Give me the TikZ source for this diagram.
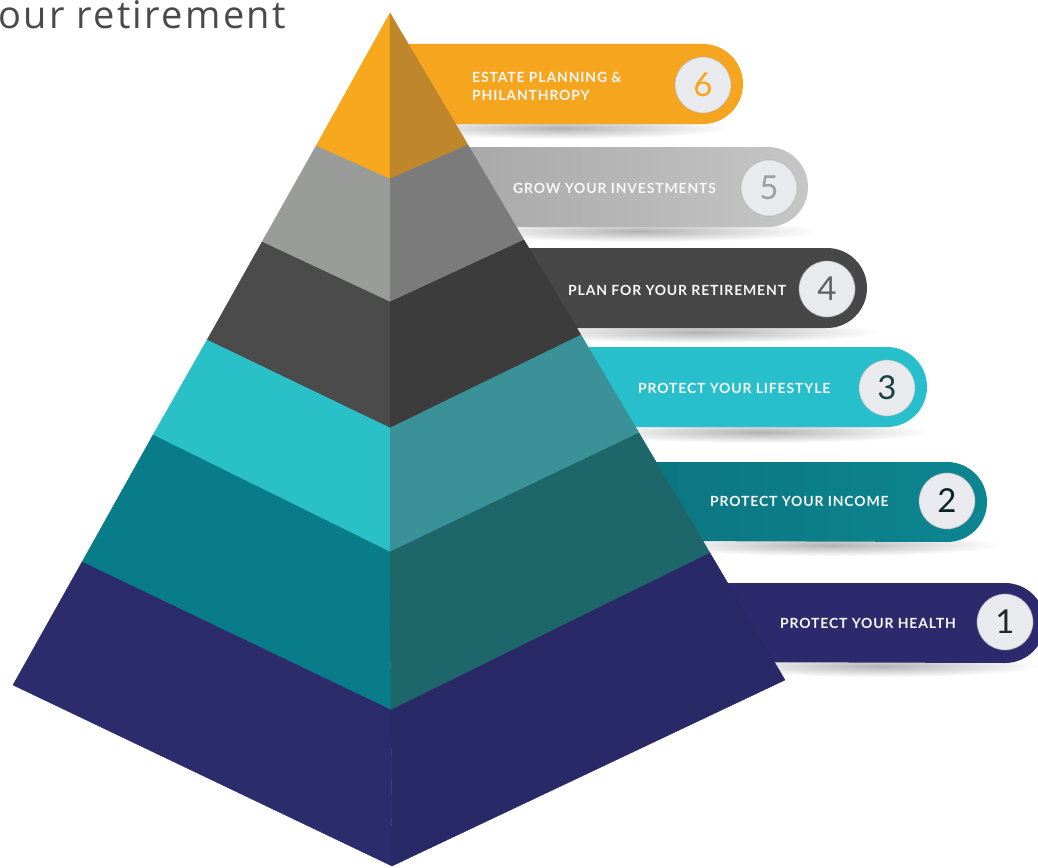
\documentclass[tikz,border=0pt]{standalone}
\usepackage{fontspec}
\setmainfont{Lato}
\newfontfamily\headfont[LetterSpace=6]{Open Sans}
\newfontfamily\labelfont[LetterSpace=6]{Lato}
\usetikzlibrary{fadings}

% face colours of the pyramid (left face / right face)
\definecolor{orL}{HTML}{F8A81C}\definecolor{orR}{HTML}{C0862C}
\definecolor{grL}{HTML}{9A9C9A}\definecolor{grR}{HTML}{7B7B7B}
\definecolor{dkL}{HTML}{4B4B4B}\definecolor{dkR}{HTML}{3C3C3C}
\definecolor{cyL}{HTML}{2AC0C8}\definecolor{cyR}{HTML}{3A9197}
\definecolor{tlL}{HTML}{087C88}\definecolor{tlR}{HTML}{1D666A}
\definecolor{puL}{HTML}{2C2B6C}\definecolor{puR}{HTML}{2A2968}
% banner colours
\definecolor{bOr}{HTML}{F6A51E}
\definecolor{bGrA}{HTML}{A2A2A2}\definecolor{bGrB}{HTML}{C6C6C6}
\definecolor{bDk}{HTML}{474747}
\definecolor{bCy}{HTML}{27BFCB}
\definecolor{bTlA}{HTML}{0B6A75}\definecolor{bTlB}{HTML}{0C8691}
\definecolor{bPu}{HTML}{2C2A6C}
\definecolor{disc}{HTML}{E9EAEE}
\definecolor{headgray}{HTML}{4A4A4A}

\tikzfading[name=softshadow, inner color=transparent!40, outer color=transparent!100]

\tikzset{
  face/.style={fill=#1, draw=#1, line width=0.4pt, line join=round},
  shadowblob/.style={fill=black, path fading=softshadow, opacity=0.5},
  bannertext/.style={anchor=west, text=white!94!gray, inner sep=0pt,
    font=\labelfont\bfseries\fontsize{14}{18}\selectfont, align=left},
  numdisc/.style={circle, fill=disc, draw=black!35, draw opacity=0.35,
    line width=1.2pt, minimum size=56pt, inner sep=0pt,
    font=\fontsize{33}{33}\selectfont},
}

% banner: left x, top, bottom, right end (rounded end of radius 40)
\newcommand\bannerpath[4]{(#1,#2) -- ({#4-40},#2)
  arc[start angle=90, end angle=-90, radius=40pt] -- (#1,#3) -- cycle}

\begin{document}
\begin{tikzpicture}[x=1pt,y=-1pt]
\useasboundingbox (0,0) rectangle (1038,867);
\clip (0,0) rectangle (1038,867);

% heading fragment
\node[anchor=base east, inner sep=0pt, text=headgray,
  font=\headfont\fontsize{38}{38}\selectfont] (head) at (286,29) {our retirement};

% soft shadows below the banners
\fill[shadowblob] (560,128) ellipse[x radius=170pt, y radius=11pt];
\fill[shadowblob] (640,231) ellipse[x radius=180pt, y radius=11pt];
\fill[shadowblob] (700,332) ellipse[x radius=180pt, y radius=11pt];
\fill[shadowblob] (760,432) ellipse[x radius=170pt, y radius=11pt];
\fill[shadowblob] (830,545) ellipse[x radius=170pt, y radius=11pt];
\fill[shadowblob] (880,666) ellipse[x radius=160pt, y radius=11pt];

% banners
\fill[bOr] \bannerpath{390}{44}{124}{743};
\shade[left color=bGrA, right color=bGrB] \bannerpath{390}{147}{227}{808};
\fill[bDk] \bannerpath{390}{248}{328}{867};
\fill[bCy] \bannerpath{390}{347}{427}{927};
\shade[left color=bTlA, right color=bTlB] \bannerpath{390}{462}{540}{987};
\fill[bPu] \bannerpath{390}{583}{661}{1045};

% number discs
\node[numdisc, text=orL!90!orange] (n6) at (703,85) {6};
\node[numdisc, text=black!38] (n5) at (769,188) {5};
\node[numdisc, text=black!62] (n4) at (827,289) {4};
\node[numdisc, text=cyR!45!black] (n3) at (887,388) {3};
\node[numdisc, text=tlR!35!black] (n2) at (947,501) {2};
\node[numdisc, text=black!85] (n1) at (1005,622) {1};

% pyramid outline points
\coordinate (A)  at (390,13);
\coordinate (L1) at (316,146); \coordinate (L2) at (262,242);
\coordinate (L3) at (207,340); \coordinate (L4) at (153,435);
\coordinate (L5) at (82,562);  \coordinate (L6) at (13,685);
\coordinate (C1) at (390,179); \coordinate (C2) at (390,302);
\coordinate (C3) at (390,428); \coordinate (C4) at (390,552);
\coordinate (C5) at (391,710); \coordinate (C6) at (392,866);
\coordinate (R1) at (468,145); \coordinate (R2) at (524,240);
\coordinate (R3) at (581,335); \coordinate (R4) at (639,433);
\coordinate (R5) at (710,553); \coordinate (R6) at (785,680);

% left faces
\path[face=orL] (A) -- (L1) -- (C1) -- cycle;
\path[face=grL] (L1) -- (L2) -- (C2) -- (C1) -- cycle;
\path[face=dkL] (L2) -- (L3) -- (C3) -- (C2) -- cycle;
\path[face=cyL] (L3) -- (L4) -- (C4) -- (C3) -- cycle;
\path[face=tlL] (L4) -- (L5) -- (C5) -- (C4) -- cycle;
\path[face=puL] (L5) -- (L6) -- (C6) -- (C5) -- cycle;
% right faces
\path[face=orR] (A) -- (C1) -- (R1) -- cycle;
\path[face=grR] (C1) -- (C2) -- (R2) -- (R1) -- cycle;
\path[face=dkR] (C2) -- (C3) -- (R3) -- (R2) -- cycle;
\path[face=cyR] (C3) -- (C4) -- (R4) -- (R3) -- cycle;
\path[face=tlR] (C4) -- (C5) -- (R5) -- (R4) -- cycle;
\path[face=puR] (C5) -- (C6) -- (R6) -- (R5) -- cycle;

% banner labels
\node[bannertext] (t6) at (472,86) {ESTATE PLANNING \&\\PHILANTHROPY};
\node[bannertext] (t5) at (513,188) {GROW YOUR INVESTMENTS};
\node[bannertext] (t4) at (568,290) {PLAN FOR YOUR RETIREMENT};
\node[bannertext] (t3) at (638,388) {PROTECT YOUR LIFESTYLE};
\node[bannertext] (t2) at (710,501) {PROTECT YOUR INCOME};
\node[bannertext] (t1) at (780,623) {PROTECT YOUR HEALTH};
\end{tikzpicture}
\end{document}
